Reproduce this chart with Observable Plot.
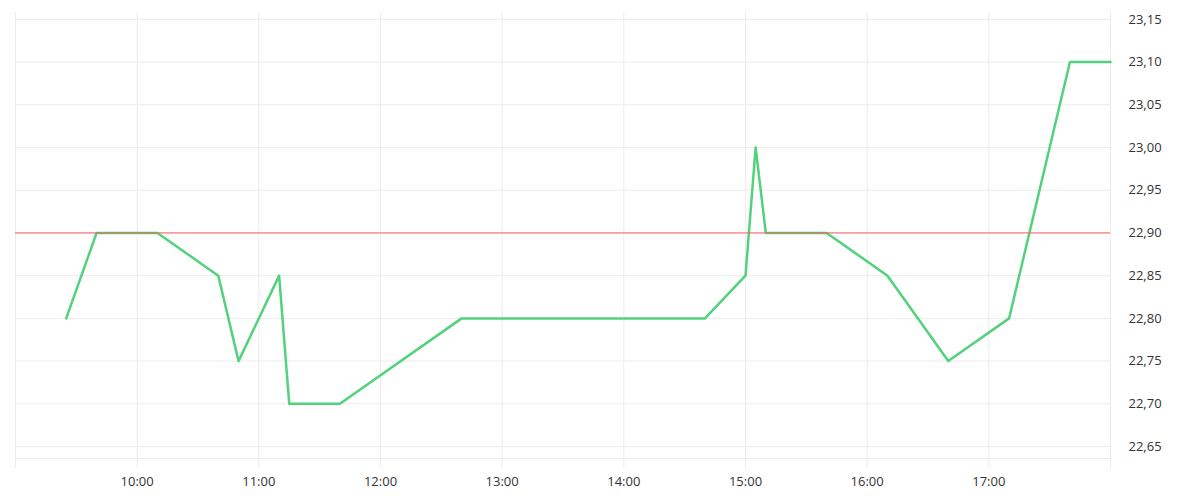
<!DOCTYPE html>
<html>
<head>
<meta charset="utf-8">
<script src="https://cdn.jsdelivr.net/npm/d3@7"></script>
<script src="https://cdn.jsdelivr.net/npm/@observablehq/plot@0.6"></script>
<style>
  html, body { margin: 0; padding: 0; background: #fff; }
  #chart { width: 1200px; height: 500px; }
</style>
</head>
<body>
<div id="chart"></div>
<script>
const times = ["09:25","09:40","10:10","10:40","10:50","11:10","11:15","11:40","12:40","14:40","15:00","15:05","15:10","15:40","16:10","16:40","17:10","17:40","18:00"];
const prices = [22.80,22.90,22.90,22.85,22.75,22.85,22.70,22.70,22.80,22.80,22.85,23.00,22.90,22.90,22.85,22.75,22.80,23.10,23.10];
const referencePrice = 22.90;
const yTicks = [22.65,22.70,22.75,22.80,22.85,22.90,22.95,23.00,23.05,23.10,23.15];
const xTickLabels = ["10:00","11:00","12:00","13:00","14:00","15:00","16:00","17:00"];
const xStart = "09:00", xEnd = "18:00";
const yDomain = [22.636, 23.158];

const toDate = s => { const [h, m] = s.split(":").map(Number); return new Date(Date.UTC(2024, 0, 2, h, m)); };
const data = times.map((t, i) => ({time: toDate(t), price: prices[i]}));
const xTicks = xTickLabels.map(toDate);
const xEdges = [toDate(xStart), toDate(xEnd)];
const fmtY = d => d3.format(".2f")(d).replace(".", ",");
const grid = "#ececec";

const chart = Plot.plot({
  width: 1200,
  height: 500,
  marginLeft: 15,
  marginRight: 90,
  marginTop: 12,
  marginBottom: 42,
  style: {fontFamily: "'Open Sans', sans-serif", fontSize: "13px", color: "#333", background: "#fff"},
  x: {type: "utc", domain: xEdges},
  y: {domain: yDomain},
  marks: [
    Plot.ruleY(yTicks, {stroke: grid, strokeWidth: 1}),
    Plot.ruleY([yDomain[0]], {stroke: grid, strokeWidth: 1}),
    Plot.ruleX(xTicks.concat(xEdges), {stroke: grid, strokeWidth: 1, insetBottom: -10}),
    Plot.axisY({anchor: "right", ticks: yTicks, tickFormat: fmtY, tickSize: 0, tickPadding: 18, textAnchor: "start", label: null, fill: "#333"}),
    Plot.axisX({ticks: xTicks, tickFormat: d3.utcFormat("%H:%M"), tickSize: 0, tickPadding: 18, label: null, fill: "#333"}),
    Plot.line(data, {x: "time", y: "price", stroke: "#52d27c", strokeWidth: 2.5, curve: "linear"}),
    Plot.ruleY([referencePrice], {stroke: "#ff5c5c", strokeWidth: 1})
  ]
});
document.getElementById("chart").appendChild(chart);
</script>
</body>
</html>
